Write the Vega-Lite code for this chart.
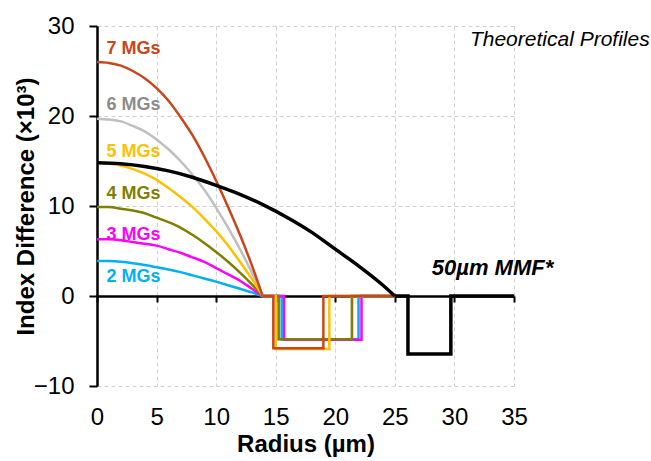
{
  "$schema": "https://vega.github.io/schema/vega-lite/v6.json",
  "width": 417,
  "height": 360,
  "autosize": "none",
  "padding": {"left": 97, "top": 26, "right": 137, "bottom": 75},
  "background": "white",
  "config": {"view": {"stroke": null}, "font": "Liberation Sans"},
  "datasets": {
    "profiles": [
      {"s": "6 MGs", "part": "core", "i": 0, "r": 0, "v": 19.7},
      {"s": "6 MGs", "part": "core", "i": 1, "r": 1, "v": 19.6},
      {"s": "6 MGs", "part": "core", "i": 2, "r": 2, "v": 19.4},
      {"s": "6 MGs", "part": "core", "i": 3, "r": 3, "v": 18.9},
      {"s": "6 MGs", "part": "core", "i": 4, "r": 4, "v": 18.3},
      {"s": "6 MGs", "part": "core", "i": 5, "r": 5, "v": 17.4},
      {"s": "6 MGs", "part": "core", "i": 6, "r": 6, "v": 16.3},
      {"s": "6 MGs", "part": "core", "i": 7, "r": 7, "v": 15.0},
      {"s": "6 MGs", "part": "core", "i": 8, "r": 8, "v": 13.5},
      {"s": "6 MGs", "part": "core", "i": 9, "r": 9, "v": 11.8},
      {"s": "6 MGs", "part": "core", "i": 10, "r": 10, "v": 9.8},
      {"s": "6 MGs", "part": "core", "i": 11, "r": 11, "v": 7.6},
      {"s": "6 MGs", "part": "core", "i": 12, "r": 12, "v": 5.2},
      {"s": "6 MGs", "part": "core", "i": 13, "r": 13, "v": 2.6},
      {"s": "6 MGs", "part": "core", "i": 14, "r": 13.9, "v": 0},
      {"s": "6 MGs", "part": "clad", "i": 20, "r": 13.9, "v": 0},
      {"s": "6 MGs", "part": "clad", "i": 21, "r": 15.25, "v": 0},
      {"s": "6 MGs", "part": "clad", "i": 22, "r": 15.25, "v": -4.8},
      {"s": "6 MGs", "part": "clad", "i": 23, "r": 21.4, "v": -4.8},
      {"s": "6 MGs", "part": "clad", "i": 24, "r": 21.4, "v": 0},
      {"s": "6 MGs", "part": "clad", "i": 25, "r": 25, "v": 0},

      {"s": "2 MGs", "part": "core", "i": 0, "r": 0, "v": 3.9},
      {"s": "2 MGs", "part": "core", "i": 1, "r": 1, "v": 3.88},
      {"s": "2 MGs", "part": "core", "i": 2, "r": 2, "v": 3.8},
      {"s": "2 MGs", "part": "core", "i": 3, "r": 3, "v": 3.65},
      {"s": "2 MGs", "part": "core", "i": 4, "r": 4, "v": 3.45},
      {"s": "2 MGs", "part": "core", "i": 5, "r": 5, "v": 3.2},
      {"s": "2 MGs", "part": "core", "i": 6, "r": 6, "v": 2.95},
      {"s": "2 MGs", "part": "core", "i": 7, "r": 7, "v": 2.65},
      {"s": "2 MGs", "part": "core", "i": 8, "r": 8, "v": 2.3},
      {"s": "2 MGs", "part": "core", "i": 9, "r": 9, "v": 1.95},
      {"s": "2 MGs", "part": "core", "i": 10, "r": 10, "v": 1.6},
      {"s": "2 MGs", "part": "core", "i": 11, "r": 11, "v": 1.2},
      {"s": "2 MGs", "part": "core", "i": 12, "r": 12, "v": 0.8},
      {"s": "2 MGs", "part": "core", "i": 13, "r": 13, "v": 0.4},
      {"s": "2 MGs", "part": "core", "i": 14, "r": 13.9, "v": 0},
      {"s": "2 MGs", "part": "clad", "i": 20, "r": 13.9, "v": 0},
      {"s": "2 MGs", "part": "clad", "i": 21, "r": 15.5, "v": 0},
      {"s": "2 MGs", "part": "clad", "i": 22, "r": 15.5, "v": -4.8},
      {"s": "2 MGs", "part": "clad", "i": 23, "r": 21.95, "v": -4.8},
      {"s": "2 MGs", "part": "clad", "i": 24, "r": 21.95, "v": 0},
      {"s": "2 MGs", "part": "clad", "i": 25, "r": 25, "v": 0},

      {"s": "3 MGs", "part": "core", "i": 0, "r": 0, "v": 6.3},
      {"s": "3 MGs", "part": "core", "i": 1, "r": 1, "v": 6.3},
      {"s": "3 MGs", "part": "core", "i": 2, "r": 2, "v": 6.2},
      {"s": "3 MGs", "part": "core", "i": 3, "r": 3, "v": 6.0},
      {"s": "3 MGs", "part": "core", "i": 4, "r": 4, "v": 5.8},
      {"s": "3 MGs", "part": "core", "i": 5, "r": 5, "v": 5.6},
      {"s": "3 MGs", "part": "core", "i": 6, "r": 6, "v": 5.2},
      {"s": "3 MGs", "part": "core", "i": 7, "r": 7, "v": 4.8},
      {"s": "3 MGs", "part": "core", "i": 8, "r": 8, "v": 4.3},
      {"s": "3 MGs", "part": "core", "i": 9, "r": 9, "v": 3.8},
      {"s": "3 MGs", "part": "core", "i": 10, "r": 10, "v": 3.1},
      {"s": "3 MGs", "part": "core", "i": 11, "r": 11, "v": 2.4},
      {"s": "3 MGs", "part": "core", "i": 12, "r": 12, "v": 1.7},
      {"s": "3 MGs", "part": "core", "i": 13, "r": 13, "v": 0.8},
      {"s": "3 MGs", "part": "core", "i": 14, "r": 13.9, "v": 0},
      {"s": "3 MGs", "part": "clad", "i": 20, "r": 13.9, "v": 0},
      {"s": "3 MGs", "part": "clad", "i": 21, "r": 15.7, "v": 0},
      {"s": "3 MGs", "part": "clad", "i": 22, "r": 15.7, "v": -4.85},
      {"s": "3 MGs", "part": "clad", "i": 23, "r": 22.2, "v": -4.85},
      {"s": "3 MGs", "part": "clad", "i": 24, "r": 22.2, "v": 0},
      {"s": "3 MGs", "part": "clad", "i": 25, "r": 25, "v": 0},

      {"s": "4 MGs", "part": "core", "i": 0, "r": 0, "v": 9.9},
      {"s": "4 MGs", "part": "core", "i": 1, "r": 1, "v": 9.9},
      {"s": "4 MGs", "part": "core", "i": 2, "r": 2, "v": 9.7},
      {"s": "4 MGs", "part": "core", "i": 3, "r": 3, "v": 9.5},
      {"s": "4 MGs", "part": "core", "i": 4, "r": 4, "v": 9.2},
      {"s": "4 MGs", "part": "core", "i": 5, "r": 5, "v": 8.7},
      {"s": "4 MGs", "part": "core", "i": 6, "r": 6, "v": 8.2},
      {"s": "4 MGs", "part": "core", "i": 7, "r": 7, "v": 7.6},
      {"s": "4 MGs", "part": "core", "i": 8, "r": 8, "v": 6.8},
      {"s": "4 MGs", "part": "core", "i": 9, "r": 9, "v": 5.9},
      {"s": "4 MGs", "part": "core", "i": 10, "r": 10, "v": 4.9},
      {"s": "4 MGs", "part": "core", "i": 11, "r": 11, "v": 3.8},
      {"s": "4 MGs", "part": "core", "i": 12, "r": 12, "v": 2.6},
      {"s": "4 MGs", "part": "core", "i": 13, "r": 13, "v": 1.3},
      {"s": "4 MGs", "part": "core", "i": 14, "r": 13.9, "v": 0},
      {"s": "4 MGs", "part": "clad", "i": 20, "r": 13.9, "v": 0},
      {"s": "4 MGs", "part": "clad", "i": 21, "r": 15.25, "v": 0},
      {"s": "4 MGs", "part": "clad", "i": 22, "r": 15.25, "v": -4.8},
      {"s": "4 MGs", "part": "clad", "i": 23, "r": 21.4, "v": -4.8},
      {"s": "4 MGs", "part": "clad", "i": 24, "r": 21.4, "v": 0},
      {"s": "4 MGs", "part": "clad", "i": 25, "r": 25, "v": 0},

      {"s": "5 MGs", "part": "core", "i": 0, "r": 0, "v": 14.8},
      {"s": "5 MGs", "part": "core", "i": 1, "r": 1, "v": 14.7},
      {"s": "5 MGs", "part": "core", "i": 2, "r": 2, "v": 14.5},
      {"s": "5 MGs", "part": "core", "i": 3, "r": 3, "v": 14.1},
      {"s": "5 MGs", "part": "core", "i": 4, "r": 4, "v": 13.6},
      {"s": "5 MGs", "part": "core", "i": 5, "r": 5, "v": 12.9},
      {"s": "5 MGs", "part": "core", "i": 6, "r": 6, "v": 12.0},
      {"s": "5 MGs", "part": "core", "i": 7, "r": 7, "v": 11.0},
      {"s": "5 MGs", "part": "core", "i": 8, "r": 8, "v": 9.9},
      {"s": "5 MGs", "part": "core", "i": 9, "r": 9, "v": 8.6},
      {"s": "5 MGs", "part": "core", "i": 10, "r": 10, "v": 7.2},
      {"s": "5 MGs", "part": "core", "i": 11, "r": 11, "v": 5.6},
      {"s": "5 MGs", "part": "core", "i": 12, "r": 12, "v": 3.8},
      {"s": "5 MGs", "part": "core", "i": 13, "r": 13, "v": 1.9},
      {"s": "5 MGs", "part": "core", "i": 14, "r": 13.9, "v": 0},
      {"s": "5 MGs", "part": "clad", "i": 20, "r": 13.9, "v": 0},
      {"s": "5 MGs", "part": "clad", "i": 21, "r": 15.0, "v": 0},
      {"s": "5 MGs", "part": "clad", "i": 22, "r": 15.0, "v": -5.9},
      {"s": "5 MGs", "part": "clad", "i": 23, "r": 19.5, "v": -5.9},
      {"s": "5 MGs", "part": "clad", "i": 24, "r": 19.5, "v": 0},
      {"s": "5 MGs", "part": "clad", "i": 25, "r": 25, "v": 0},

      {"s": "7 MGs", "part": "core", "i": 0, "r": 0, "v": 26.0},
      {"s": "7 MGs", "part": "core", "i": 1, "r": 1, "v": 25.9},
      {"s": "7 MGs", "part": "core", "i": 2, "r": 2, "v": 25.6},
      {"s": "7 MGs", "part": "core", "i": 3, "r": 3, "v": 25.0},
      {"s": "7 MGs", "part": "core", "i": 4, "r": 4, "v": 24.2},
      {"s": "7 MGs", "part": "core", "i": 5, "r": 5, "v": 23.1},
      {"s": "7 MGs", "part": "core", "i": 6, "r": 6, "v": 21.7},
      {"s": "7 MGs", "part": "core", "i": 7, "r": 7, "v": 19.9},
      {"s": "7 MGs", "part": "core", "i": 8, "r": 8, "v": 17.9},
      {"s": "7 MGs", "part": "core", "i": 9, "r": 9, "v": 15.5},
      {"s": "7 MGs", "part": "core", "i": 10, "r": 10, "v": 12.8},
      {"s": "7 MGs", "part": "core", "i": 11, "r": 11, "v": 9.9},
      {"s": "7 MGs", "part": "core", "i": 12, "r": 12, "v": 6.8},
      {"s": "7 MGs", "part": "core", "i": 13, "r": 13, "v": 3.4},
      {"s": "7 MGs", "part": "core", "i": 14, "r": 13.9, "v": 0},
      {"s": "7 MGs", "part": "clad", "i": 20, "r": 13.9, "v": 0},
      {"s": "7 MGs", "part": "clad", "i": 21, "r": 14.8, "v": 0},
      {"s": "7 MGs", "part": "clad", "i": 22, "r": 14.8, "v": -5.8},
      {"s": "7 MGs", "part": "clad", "i": 23, "r": 19.0, "v": -5.8},
      {"s": "7 MGs", "part": "clad", "i": 24, "r": 19.0, "v": 0},
      {"s": "7 MGs", "part": "clad", "i": 25, "r": 25, "v": 0},

      {"s": "MMF", "part": "core", "i": 0, "r": 0, "v": 14.8},
      {"s": "MMF", "part": "core", "i": 1, "r": 2, "v": 14.7},
      {"s": "MMF", "part": "core", "i": 2, "r": 4, "v": 14.4},
      {"s": "MMF", "part": "core", "i": 3, "r": 6, "v": 13.9},
      {"s": "MMF", "part": "core", "i": 4, "r": 8, "v": 13.2},
      {"s": "MMF", "part": "core", "i": 5, "r": 10, "v": 12.3},
      {"s": "MMF", "part": "core", "i": 6, "r": 12, "v": 11.3},
      {"s": "MMF", "part": "core", "i": 7, "r": 14, "v": 10.1},
      {"s": "MMF", "part": "core", "i": 8, "r": 16, "v": 8.7},
      {"s": "MMF", "part": "core", "i": 9, "r": 18, "v": 7.1},
      {"s": "MMF", "part": "core", "i": 10, "r": 20, "v": 5.2},
      {"s": "MMF", "part": "core", "i": 11, "r": 22, "v": 3.3},
      {"s": "MMF", "part": "core", "i": 12, "r": 24, "v": 1.2},
      {"s": "MMF", "part": "core", "i": 13, "r": 25, "v": 0},
      {"s": "MMF", "part": "clad", "i": 20, "r": 25, "v": 0},
      {"s": "MMF", "part": "clad", "i": 21, "r": 26.1, "v": 0},
      {"s": "MMF", "part": "clad", "i": 22, "r": 26.1, "v": -6.45},
      {"s": "MMF", "part": "clad", "i": 23, "r": 29.7, "v": -6.45},
      {"s": "MMF", "part": "clad", "i": 24, "r": 29.7, "v": 0},
      {"s": "MMF", "part": "clad", "i": 25, "r": 35, "v": 0}
    ],
    "labels": [
      {"s": "7 MGs", "x": 0.8, "y": 27.5},
      {"s": "6 MGs", "x": 0.8, "y": 21.2},
      {"s": "5 MGs", "x": 0.8, "y": 16.0},
      {"s": "4 MGs", "x": 0.8, "y": 11.3},
      {"s": "3 MGs", "x": 0.8, "y": 6.8},
      {"s": "2 MGs", "x": 0.8, "y": 2.15}
    ],
    "title1": [{"t": "Theoretical Profiles", "x": 31.3, "y": 28.4}],
    "title2": [{"t": "50µm MMF*", "x": 28.1, "y": 3.1}]
  },
  "resolve": {
    "scale": {"color": "independent"},
    "axis": {"x": "independent", "y": "independent"}
  },
  "layer": [
    {
      "data": {"name": "profiles"},
      "transform": [{"filter": "datum.part === 'core' && datum.s !== 'MMF'"}],
      "mark": {"type": "line", "interpolate": "monotone", "strokeWidth": 2.5},
      "encoding": {
        "x": {
          "field": "r", "type": "quantitative",
          "scale": {"domain": [0, 35], "nice": false, "zero": false},
          "axis": {
            "orient": "bottom",
            "values": [0, 5, 10, 15, 20, 25, 30, 35],
            "title": "Radius (µm)",
            "titleFont": "Liberation Sans", "titleFontSize": 24, "titleFontWeight": "bold", "titleColor": "black", "titlePadding": 3,
            "labelFont": "Liberation Sans", "labelFontSize": 24, "labelColor": "black", "labelPadding": 19, "labelFlush": false,
            "ticks": false, "tickSize": 0, "domain": false,
            "grid": true, "gridDash": [4, 3], "gridWidth": 1,
            "gridColor": {"condition": {"test": "datum.value === 0", "value": "transparent"}, "value": "#D0D0D0"}
          }
        },
        "y": {
          "field": "v", "type": "quantitative",
          "scale": {"domain": [-10, 30], "nice": false, "zero": false},
          "axis": {
            "orient": "left",
            "values": [-10, 0, 10, 20, 30],
            "title": "Index Difference (×10³)",
            "titleFont": "Liberation Sans", "titleFontSize": 24, "titleFontWeight": "bold", "titleColor": "black", "titlePadding": -5,
            "labelFont": "Liberation Sans", "labelFontSize": 24, "labelColor": "black", "labelPadding": 15, "labelFlush": false,
            "tickSize": 8, "tickColor": "black", "tickWidth": 2,
            "domainColor": "black", "domainWidth": 2.5,
            "grid": true, "gridDash": [4, 3], "gridWidth": 1,
            "gridColor": {"condition": {"test": "datum.value === 0", "value": "transparent"}, "value": "#D0D0D0"}
          }
        },
        "color": {
          "field": "s", "type": "nominal", "legend": null,
          "scale": {"domain": ["6 MGs", "2 MGs", "3 MGs", "4 MGs", "5 MGs", "7 MGs"],
                    "range": ["#BFBFBF", "#00B0F0", "#FF00FF", "#7F7F00", "#FFC000", "#C9461B"]}
        },
        "order": {"field": "i", "type": "quantitative"}
      }
    },
    {
      "data": {"name": "profiles"},
      "transform": [{"filter": "datum.part === 'clad' && datum.s !== 'MMF'"}],
      "mark": {"type": "line", "strokeWidth": 2.5},
      "encoding": {
        "x": {
          "field": "r", "type": "quantitative",
          "scale": {"domain": [0, 35], "nice": false, "zero": false},
          "axis": {
            "orient": "bottom",
            "offset": -90, "values": [0, 5, 10, 15, 20, 25, 30, 35],
            "labels": false, "title": null, "grid": false,
            "domainColor": "black", "domainWidth": 2.5,
            "tickColor": "black", "tickWidth": 2, "tickSize": 6
          }
        },
        "y": {"field": "v", "type": "quantitative", "scale": {"domain": [-10, 30], "nice": false, "zero": false}, "axis": null},
        "color": {
          "field": "s", "type": "nominal", "legend": null,
          "scale": {"domain": ["6 MGs", "2 MGs", "3 MGs", "4 MGs", "5 MGs", "7 MGs"],
                    "range": ["#BFBFBF", "#00B0F0", "#FF00FF", "#7F7F00", "#FFC000", "#C9461B"]}
        },
        "order": {"field": "i", "type": "quantitative"}
      }
    },
    {
      "data": {"name": "profiles"},
      "transform": [{"filter": "datum.part === 'core' && datum.s === 'MMF'"}],
      "mark": {"type": "line", "interpolate": "monotone", "strokeWidth": 3.5, "color": "black"},
      "encoding": {
        "x": {"field": "r", "type": "quantitative", "axis": null},
        "y": {"field": "v", "type": "quantitative", "axis": null},
        "order": {"field": "i", "type": "quantitative"}
      }
    },
    {
      "data": {"name": "profiles"},
      "transform": [{"filter": "datum.part === 'clad' && datum.s === 'MMF'"}],
      "mark": {"type": "line", "strokeWidth": 3.5, "color": "black", "strokeJoin": "miter"},
      "encoding": {
        "x": {"field": "r", "type": "quantitative", "axis": null},
        "y": {"field": "v", "type": "quantitative", "axis": null},
        "order": {"field": "i", "type": "quantitative"}
      }
    },
    {
      "data": {"name": "labels"},
      "mark": {"type": "text", "font": "Liberation Sans", "fontSize": 18, "fontWeight": "bold", "align": "left", "baseline": "middle"},
      "encoding": {
        "x": {"field": "x", "type": "quantitative", "axis": null},
        "y": {"field": "y", "type": "quantitative", "axis": null},
        "text": {"field": "s"},
        "color": {
          "field": "s", "type": "nominal", "legend": null,
          "scale": {"domain": ["6 MGs", "2 MGs", "3 MGs", "4 MGs", "5 MGs", "7 MGs"],
                    "range": ["#8C8C8C", "#00B0F0", "#FF00FF", "#7F7F00", "#FFC000", "#C9461B"]}
        }
      }
    },
    {
      "data": {"name": "title1"},
      "mark": {"type": "text", "font": "Liberation Sans", "fontSize": 21, "fontStyle": "italic", "align": "left", "baseline": "middle", "color": "black"},
      "encoding": {
        "x": {"field": "x", "type": "quantitative", "axis": null},
        "y": {"field": "y", "type": "quantitative", "axis": null},
        "text": {"field": "t"}
      }
    },
    {
      "data": {"name": "title2"},
      "mark": {"type": "text", "font": "Liberation Sans", "fontSize": 22, "fontStyle": "italic", "fontWeight": "bold", "align": "left", "baseline": "middle", "color": "black"},
      "encoding": {
        "x": {"field": "x", "type": "quantitative", "axis": null},
        "y": {"field": "y", "type": "quantitative", "axis": null},
        "text": {"field": "t"}
      }
    }
  ]
}
